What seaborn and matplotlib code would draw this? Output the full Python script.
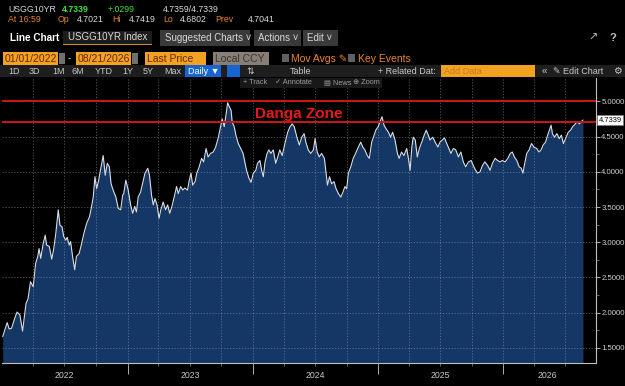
"""
USGG10YR line chart (Bloomberg-style screen) with the 'Danga Zone' band
Output: out.png
"""
import matplotlib
matplotlib.use('Agg')
import matplotlib.pyplot as plt
from matplotlib.patches import Rectangle
import seaborn as sns
import pandas as pd
import numpy as np

# --- data (days after 2022-01-01, yield in %) ---
day_offsets = [
    1, 7, 14, 20, 27, 36, 43, 51, 59, 69, 75, 82, 90, 97, 103, 107, 112, 119, 125, 129,
    137, 144, 150, 156, 163, 168, 174, 179, 185, 189, 195, 199, 205, 211, 216, 224, 231, 238, 246, 254,
    260, 265, 270, 275, 281, 286, 294, 300, 306, 312, 317, 323, 331, 338, 345, 351, 354, 360, 367, 374,
    380, 386, 391, 396, 403, 411, 416, 424, 429, 435, 440, 445, 451, 457, 462, 469, 476, 482, 488, 494,
    501, 508, 513, 520, 526, 532, 540, 545, 550, 555, 562, 567, 574, 581, 587, 594, 600, 607, 615, 622,
    630, 635, 641, 647, 652, 657, 662, 667, 670, 676, 681, 688, 695, 702, 707, 712, 719, 725, 732, 739,
    744, 751, 756, 761, 766, 772, 777, 783, 790, 797, 803, 809, 816, 824, 832, 839, 845, 851, 860, 866,
    873, 880, 885, 892, 899, 907, 912, 918, 924, 931, 939, 944, 948, 954, 960, 967, 973, 980, 987, 993,
    999, 1004, 1009, 1016, 1023, 1030, 1038, 1045, 1051, 1057, 1064, 1070, 1077, 1084, 1089, 1096, 1101, 1107, 1113, 1119,
    1126, 1132, 1138, 1145, 1152, 1157, 1164, 1171, 1179, 1184, 1189, 1194, 1198, 1204, 1210, 1216, 1223, 1230, 1236, 1242,
    1247, 1255, 1262, 1270, 1276, 1283, 1289, 1296, 1302, 1308, 1315, 1322, 1330, 1337, 1344, 1351, 1359, 1367, 1373, 1380,
    1386, 1393, 1400, 1407, 1415, 1422, 1429, 1437, 1444, 1451, 1458, 1466, 1474, 1481, 1487, 1493, 1500, 1507, 1513, 1518,
    1522, 1529, 1536, 1543, 1550, 1558, 1565, 1571, 1577, 1584, 1590, 1595, 1600, 1604, 1610, 1617, 1624, 1630, 1636, 1644,
    1650, 1657, 1663, 1669, 1676, 1683, 1690, 1693,
]
yields = [
    1.66, 1.75, 1.86, 1.77, 1.78, 1.92, 2.01, 1.97, 1.74, 2.13, 2.20, 2.44, 2.37, 2.70, 2.79, 2.91, 2.77, 2.98, 3.10, 2.96,
    2.94, 2.76, 2.91, 3.13, 3.46, 3.24, 3.22, 3.08, 3.03, 3.07, 2.96, 3.01, 2.79, 2.61, 2.80, 2.84, 2.98, 3.13, 3.27, 3.36,
    3.50, 3.64, 3.93, 3.76, 3.88, 4.02, 4.23, 3.95, 4.12, 4.07, 3.83, 3.74, 3.64, 3.48, 3.46, 3.67, 3.69, 3.88, 3.74, 3.53,
    3.41, 3.51, 3.43, 3.64, 3.71, 3.88, 3.98, 4.05, 3.95, 3.67, 3.53, 3.62, 3.53, 3.34, 3.46, 3.57, 3.46, 3.53, 3.41, 3.50,
    3.64, 3.79, 3.69, 3.79, 3.74, 3.77, 3.74, 3.88, 3.98, 3.81, 3.86, 3.98, 4.07, 4.19, 4.14, 4.33, 4.21, 4.26, 4.28, 4.35,
    4.49, 4.61, 4.75, 4.64, 4.80, 4.98, 4.92, 4.87, 4.71, 4.64, 4.52, 4.40, 4.33, 4.26, 4.14, 4.02, 3.91, 3.85, 3.98, 4.02,
    4.12, 4.16, 4.02, 3.93, 4.14, 4.26, 4.31, 4.26, 4.31, 4.12, 4.21, 4.31, 4.23, 4.40, 4.56, 4.64, 4.68, 4.64, 4.47, 4.38,
    4.49, 4.54, 4.42, 4.31, 4.26, 4.31, 4.47, 4.28, 4.21, 4.26, 4.19, 3.98, 3.81, 3.93, 3.83, 3.86, 3.76, 3.69, 3.64, 3.71,
    3.79, 3.76, 3.98, 4.07, 4.19, 4.26, 4.35, 4.42, 4.35, 4.31, 4.23, 4.19, 4.42, 4.52, 4.59, 4.64, 4.71, 4.78, 4.66, 4.61,
    4.56, 4.49, 4.56, 4.45, 4.26, 4.19, 4.28, 4.23, 4.33, 4.19, 4.02, 4.35, 4.49, 4.45, 4.21, 4.33, 4.42, 4.52, 4.59, 4.52,
    4.45, 4.49, 4.42, 4.35, 4.42, 4.45, 4.48, 4.40, 4.33, 4.26, 4.33, 4.31, 4.21, 4.28, 4.14, 4.07, 4.14, 4.16, 4.09, 4.02,
    3.98, 4.00, 4.09, 4.14, 4.09, 4.02, 4.12, 4.19, 4.16, 4.14, 4.16, 4.14, 4.19, 4.26, 4.28, 4.21, 4.16, 4.07, 4.05, 3.98,
    4.09, 4.26, 4.31, 4.40, 4.35, 4.33, 4.28, 4.31, 4.38, 4.42, 4.52, 4.59, 4.66, 4.54, 4.49, 4.54, 4.47, 4.52, 4.40, 4.49,
    4.56, 4.59, 4.64, 4.67, 4.71, 4.68, 4.72, 4.7339,
]
zone_levels = [5.0, 4.70]
y_ticks = [1.5, 2.0, 2.5, 3.0, 3.5, 4.0, 4.5, 5.0]
year_labels = ['2022', '2023', '2024', '2025', '2026']
last_price = 4.7339

df = pd.DataFrame({'date': pd.Timestamp('2022-01-01') + pd.to_timedelta(day_offsets, unit='D'),
                   'yield': yields})

sns.set_theme(style='dark')
plt.rcParams['font.family'] = ['Liberation Sans', 'DejaVu Sans']
W, H = 625, 386
fig = plt.figure(figsize=(W / 100, H / 100), dpi=100, facecolor='black')

# --- chart area ---
ax = fig.add_axes([2 / W, 23 / H, 594 / W, 285 / H])
ax.set_facecolor('black')
ax.fill_between(df['date'], df['yield'], 0, color='#143766', linewidth=0, zorder=1)
sns.lineplot(data=df, x='date', y='yield', ax=ax, color='#d8dee6', linewidth=0.8, zorder=4)
for lvl in zone_levels:
    ax.axhline(lvl, color='#d01414', linewidth=1.4, zorder=5)
ax.text(0.426, 0.874, 'Danga Zone', transform=ax.transAxes, color='#e41a1a',
        fontsize=11, fontweight='bold', va='center', ha='left', zorder=6)

x0 = pd.Timestamp('2022-01-01') - pd.Timedelta(days=1)
x1 = pd.Timestamp('2026-09-28')
ax.set_xlim(x0, x1)
ax.set_ylim(1.287, 5.33)
ax.set_xlabel('')
ax.set_ylabel('')

# y axis on the right
ax.yaxis.tick_right()
ax.set_yticks(y_ticks)
ax.set_yticks(np.arange(1.5, 5.01, 0.25), minor=True)
ax.yaxis.set_major_formatter(plt.FuncFormatter(lambda v, _: f'{v:.4f}'))
ax.tick_params(axis='y', which='major', right=True, length=3, width=0.6, color='#c8c8c8',
               labelsize=5.6, labelcolor='#d0d0d0', pad=0.8)
ax.tick_params(axis='y', which='minor', right=True, length=2, width=0.5, color='#909090')

# x axis: quarterly grid, year labels mid-year
quarters = pd.date_range('2022-04-01', '2026-07-01', freq='QS')
ax.set_xticks(quarters)
ax.set_xticklabels([])
ax.tick_params(axis='x', which='major', bottom=True, length=2, width=0.5, color='#909090')
label_pos = [pd.Timestamp(f'{y}-07-02') for y in year_labels[:-1]] + [pd.Timestamp('2026-05-10')]
ax.set_xticks(label_pos, minor=True)
ax.set_xticklabels(year_labels, minor=True)
ax.tick_params(axis='x', which='minor', length=0, labelsize=6.3, labelcolor='#c8c8c8', pad=6)
sec = ax.secondary_xaxis('bottom')
sec.set_xticks([pd.Timestamp(f'{y}-01-01') for y in year_labels[1:]])
sec.set_xticklabels([])
sec.tick_params(axis='x', length=8, width=0.7, color='#b0b0b0', direction='out')
sec.spines['bottom'].set_visible(False)

ax.set_axisbelow(False)
ax.grid(True, which='major', axis='both', color='#9aa4b0', alpha=0.55,
        linestyle=(0, (1.5, 2)), linewidth=0.6, zorder=3)
for side in ['left', 'top']:
    ax.spines[side].set_visible(False)
for side in ['right', 'bottom']:
    ax.spines[side].set_color('#c0c0c0')
    ax.spines[side].set_linestyle((0, (1, 1)))
    ax.spines[side].set_linewidth(0.8)

# last price tag
ax.text(1.004, last_price, f'{last_price:.4f}', transform=ax.get_yaxis_transform(),
        fontsize=5.4, color='black', va='center', ha='left', zorder=7,
        bbox=dict(boxstyle='square,pad=0.15', facecolor='white', edgecolor='#808080', linewidth=0.5),
        clip_on=False)


# --- header (terminal toolbar) ---
def box(x, y, w, h, color, z=1):
    fig.add_artist(Rectangle((x / W, 1 - (y + h) / H), w / W, h / H, transform=fig.transFigure,
                             facecolor=color, edgecolor='none', zorder=z))


def put(x, y, s, color, size=6.3, weight='normal', ha='left'):
    fig.text(x / W, 1 - y / H, s, color=color, fontsize=size, fontweight=weight,
             ha=ha, va='center', zorder=5)


orange = '#e8862a'
grey_txt = '#d8d8d8'
put(8, 9, 'USGG10YR', grey_txt)
put(62, 9, '4.7339', '#3ee03e', weight='bold')
put(108, 9, '+.0299', '#3ee03e')
put(163, 9, '4.7359/4.7339', grey_txt)
put(8, 20, 'At 16:59', orange)
put(58, 20, 'Op', orange)
put(77, 20, '4.7021', grey_txt)
put(112, 20, 'Hi', orange)
put(129, 20, '4.7419', grey_txt)
put(163, 20, 'Lo', orange)
put(180, 20, '4.6802', grey_txt)
put(215, 20, 'Prev', orange)
put(248, 20, '4.7041', grey_txt)

put(10, 38, 'Line Chart', 'white', size=7.2, weight='bold')
box(63, 31, 89, 14, '#1c1c1c')
box(63, 44, 89, 1.2, '#d88a2a', z=2)
put(68, 37, 'USGG10YR Index', grey_txt, size=7)
box(160, 30, 90, 16, '#3a3a3a')
put(165, 38, 'Suggested Charts \u02c5', grey_txt, size=7)
box(254, 30, 47, 16, '#3a3a3a')
put(258, 38, 'Actions \u02c5', grey_txt, size=7)
box(303, 30, 35, 16, '#3a3a3a')
put(307, 38, 'Edit \u02c5', grey_txt, size=7)
put(588, 38, '\u2197', '#c0c0c0', size=8)
put(610, 38, '?', '#c0c0c0', size=8, weight='bold')

for bx, bw, txt in [(3, 55, '01/01/2022'), (76, 55, '08/21/2026'), (145, 61, 'Last Price')]:
    box(bx, 52, bw, 13, '#f2a221')
    put(bx + 2, 58.5, txt, '#6a2400', size=7.5)
box(59, 53, 6, 11, '#707070')
box(132, 53, 6, 11, '#707070')
put(68, 58.5, '-', grey_txt, size=7)
box(213, 52, 56, 13, '#877e76')
put(215, 58.5, 'Local CCY', '#3a3232', size=7.5)
box(282, 54, 7, 8, '#606060')
put(291, 58.5, 'Mov Avgs \u270e', orange, size=7.5)
box(348, 54, 7, 8, '#606060')
put(358, 58.5, 'Key Events', orange, size=7.5)

box(0, 65, W, 12, '#1e1e1e')
for px_, lab in [(8, '1D'), (29, '3D'), (52, '1M'), (72, '6M'), (95, 'YTD'), (122, '1Y'), (143, '5Y'), (164, 'Max')]:
    put(px_, 71, lab, '#c8c8c8', size=6.5)
box(185, 65, 36, 12, '#1665d0')
put(188, 71, 'Daily \u25bc', 'white', size=6.5)
box(227, 65, 13, 12, '#1665d0')
put(246, 71, '\u21c5', '#c8c8c8', size=6.5)
put(290, 71, 'Table', '#c8c8c8', size=6.5)
put(378, 71, '+ Related Dat:', '#c8c8c8', size=6.5)
box(441, 65, 94, 12, '#f2a221')
put(444, 71, 'Add Data', '#c57a20', size=6.5)
put(542, 71, '\u00ab', '#c8c8c8', size=7)
put(553, 71, '\u270e Edit Chart', '#c8c8c8', size=6.5)
put(613, 71, '\u2699', '#c8c8c8', size=7)

box(240, 78, 142, 10, '#181818', z=4)
for px_, lab in [(243, '+ Track'), (275, '\u2713 Annotate'), (324, '\u25a4 News'), (353, '\u2295 Zoom')]:
    put(px_, 83, lab, '#9a9a9a', size=5.3)

plt.savefig('out.png', dpi=100, facecolor='black')
plt.close()
print('saved out.png')
